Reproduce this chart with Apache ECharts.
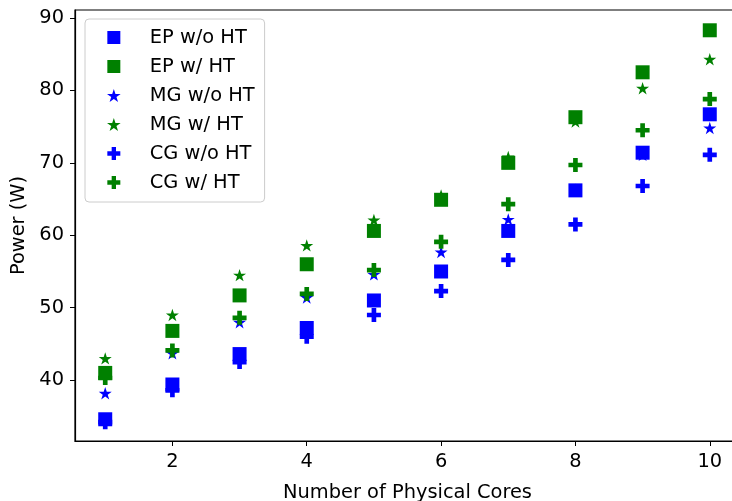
<!DOCTYPE html>
<html>
<head>
<meta charset="utf-8">
<script src="https://cdn.jsdelivr.net/npm/echarts@6/dist/echarts.min.js"></script>
<style>
  html, body { margin: 0; padding: 0; background: #fff; }
  #chart { width: 732px; height: 501px; }
</style>
</head>
<body>
<div id="chart"></div>
<script>
// Number of physical cores
const cores = [1, 2, 3, 4, 5, 6, 7, 8, 9, 10];

// Power (W)
const epNoHT = [34.6, 39.4, 43.6, 47.2, 51.0, 55.0, 60.6, 66.2, 71.4, 76.7];
const epHT   = [41.0, 46.8, 51.7, 56.0, 60.6, 64.9, 70.0, 76.3, 82.5, 88.3];
const mgNoHT = [38.2, 43.7, 48.0, 51.4, 54.6, 57.7, 62.2, 66.3, 71.1, 74.8];
const mgHT   = [43.0, 49.0, 54.5, 58.6, 62.1, 65.5, 70.8, 75.7, 80.3, 84.3];
const cgNoHT = [34.2, 38.6, 42.5, 46.0, 49.0, 52.3, 56.6, 61.5, 66.8, 71.1];
const cgHT   = [40.3, 44.1, 48.6, 51.9, 55.2, 59.1, 64.3, 69.7, 74.5, 78.8];

const xTicks = [2, 4, 6, 8, 10];
const yTicks = [40, 50, 60, 70, 80, 90];

const BLUE = '#0000ff';
const GREEN = '#008000';
const FONT = 'DejaVu Sans';
const FONT_SIZE = 19.4;

// matplotlib-like 's', '*' and 'P' markers
const SQUARE = 'path://M0,0H10V10H0Z';
const STAR = 'path://M0,-1L0.2245,-0.309L0.951,-0.309L0.3633,0.118L0.588,0.809L0,0.382L-0.588,0.809L-0.3633,0.118L-0.951,-0.309L-0.2245,-0.309Z';
const PLUS = 'path://M1,0H2V1H3V2H2V3H1V2H0V1H1Z';

const seriesDefs = [
  { name: 'EP w/o HT', values: epNoHT, color: BLUE, symbol: SQUARE, size: 14 },
  { name: 'EP w/ HT', values: epHT, color: GREEN, symbol: SQUARE, size: 14 },
  { name: 'MG w/o HT', values: mgNoHT, color: BLUE, symbol: STAR, size: [13, 12.4] },
  { name: 'MG w/ HT', values: mgHT, color: GREEN, symbol: STAR, size: [13, 12.4] },
  { name: 'CG w/o HT', values: cgNoHT, color: BLUE, symbol: PLUS, size: 14 },
  { name: 'CG w/ HT', values: cgHT, color: GREEN, symbol: PLUS, size: 14 },
];

const chart = echarts.init(document.getElementById('chart'), null, { renderer: 'canvas' });

const axisText = { color: '#000', fontFamily: FONT, fontSize: FONT_SIZE };

chart.setOption({
  animation: false,
  backgroundColor: '#fff',
  // right edge of the frame sits just outside the picture, as in the reference
  grid: {
    left: 75, top: 10, right: -8, bottom: 60,
    outerBoundsMode: 'none',
    show: true, borderColor: '#000', borderWidth: 1.2,
  },
  legend: {
    orient: 'vertical',
    left: 85,
    top: 19,
    padding: [9, 10, 10, 22],
    itemWidth: 30,
    itemHeight: 13,
    itemGap: 10,
    borderColor: '#cccccc',
    borderWidth: 1,
    borderRadius: 4,
    backgroundColor: 'rgba(255,255,255,0.8)',
    textStyle: { color: '#000', fontFamily: FONT, fontSize: FONT_SIZE, padding: [0, 0, 0, 16] },
    data: seriesDefs.map((s) => ({ name: s.name, icon: s.symbol })),
  },
  xAxis: {
    type: 'value',
    min: 0.55,
    max: 10.45,
    name: 'Number of Physical Cores',
    nameLocation: 'middle',
    nameGap: 42,
    nameTextStyle: axisText,
    axisLine: { lineStyle: { color: '#000', width: 1.2 } },
    axisTick: { show: true, length: 5, lineStyle: { color: '#000' }, customValues: xTicks },
    axisLabel: { ...axisText, margin: 11, customValues: xTicks },
    splitLine: { show: false },
  },
  yAxis: {
    type: 'value',
    min: 31.6,
    max: 91.1,
    name: 'Power (W)',
    nameLocation: 'middle',
    nameGap: 47,
    nameTextStyle: axisText,
    axisLine: { show: true, lineStyle: { color: '#000', width: 1.2 } },
    axisTick: { show: true, length: 5, lineStyle: { color: '#000' }, customValues: yTicks },
    axisLabel: { ...axisText, margin: 11, customValues: yTicks },
    splitLine: { show: false },
  },
  series: seriesDefs.map((s) => ({
    name: s.name,
    type: 'scatter',
    symbol: s.symbol,
    symbolSize: s.size,
    itemStyle: { color: s.color, opacity: 1 },
    data: cores.map((c, i) => [c, s.values[i]]),
  })),
});
</script>
</body>
</html>
